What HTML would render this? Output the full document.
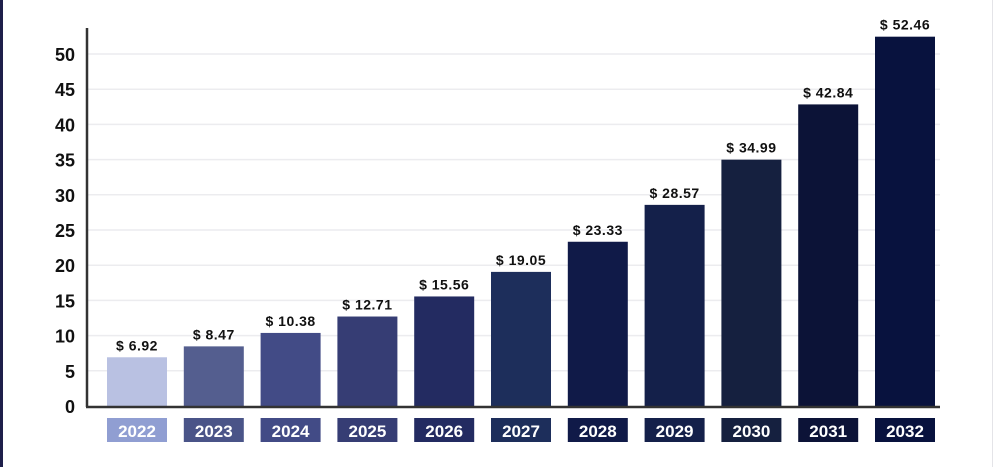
<!DOCTYPE html>
<html><head><meta charset="utf-8"><style>
html,body{margin:0;padding:0;background:#fff;}
body{width:1000px;height:467px;position:relative;overflow:hidden;font-family:"Liberation Sans Narrow","Liberation Sans",sans-serif;}
svg text{font-family:"Liberation Sans Narrow","Liberation Sans",sans-serif;font-weight:bold;}
</style></head><body>
<svg id="chart" width="1000" height="467" xmlns="http://www.w3.org/2000/svg">
<rect x="0" y="0" width="3" height="467" fill="#1e1f4a"/>
<rect x="992" y="0" width="1" height="467" fill="#e4e4e8"/>
<g id="grid"></g><g id="bars"></g>
<line x1="87" y1="28" x2="87" y2="407" stroke="#333" stroke-width="2.5"/>
<line x1="86" y1="407" x2="940" y2="407" stroke="#333" stroke-width="2.5"/>
</svg>
<script>
const categories=["2022","2023","2024","2025","2026","2027","2028","2029","2030","2031","2032"];
const values=[6.92,8.47,10.38,12.71,15.56,19.05,23.33,28.57,34.99,42.84,52.46];
const valueLabels=["$ 6.92","$ 8.47","$ 10.38","$ 12.71","$ 15.56","$ 19.05","$ 23.33","$ 28.57","$ 34.99","$ 42.84","$ 52.46"];
const yTicks=[0,5,10,15,20,25,30,35,40,45,50];
const barColors=["#b9c1e2","#545e8f","#424b86","#363d74","#232b61","#1d2e5b","#101a48","#14204a","#15203f","#0c1337","#08123e"];
const labelColors=["#909ed2","#4a5488","#424b86","#363d74","#232b61","#1d2e5b","#101a48","#14204a","#15203f","#0c1337","#08123e"];
const NS="http://www.w3.org/2000/svg";
const y0=406, pxPerUnit=7.04;
function yScale(v){return y0-v*pxPerUnit;}
function xScale(i){return 107+i*76.8;}
const bw=60;
const grid=document.getElementById('grid'), bars=document.getElementById('bars');
function mk(tag,attrs,parent){const e=document.createElementNS(NS,tag);for(const k in attrs)e.setAttribute(k,attrs[k]);parent.appendChild(e);return e;}
yTicks.forEach(t=>{
  const y=yScale(t);
  if(t>0){const l=mk('line',{x1:88,x2:940,y1:y,y2:y,stroke:'#ececef','stroke-width':1.5},grid);
  
  }
  const tx=mk('text',{x:75,y:y+7,'text-anchor':'end','font-size':18,fill:'#111'},grid);
  tx.textContent=t;
  
  
});
categories.forEach((c,i)=>{
  const x=xScale(i), y=yScale(values[i]);
  const r=mk('rect',{x:x,y:y,width:bw,height:y0-y,fill:barColors[i]},bars);
  
  
  const vl=mk('text',{x:x+bw/2,y:y-7,'text-anchor':'middle','font-size':14,fill:'#111','letter-spacing':'0.5'},bars);
  vl.textContent=valueLabels[i];
  
  
  const lb=mk('rect',{x:x,y:418,width:bw,height:24,fill:labelColors[i]},bars);
  
  
  const lt=mk('text',{x:x+bw/2,y:437,'text-anchor':'middle','font-size':17,fill:'#fff'},bars);
  lt.textContent=c;
  
  
});
</script>
</body></html>
